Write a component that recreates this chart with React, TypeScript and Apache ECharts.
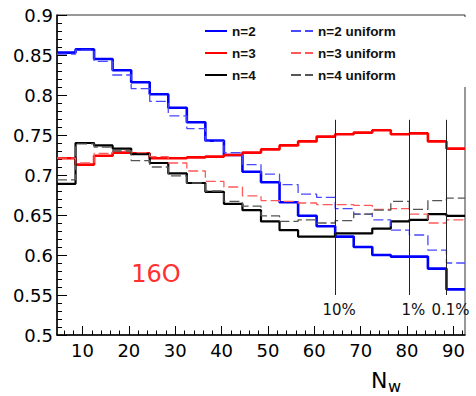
import React, { useEffect, useRef } from "react";
import * as echarts from "echarts";

// Histogram bin edges (N_w)
const binEdges = [4.5, 8.5, 12.5, 16.5, 20.5, 24.5, 28.5, 32.5, 36.5, 40.5, 44.5, 48.5, 52.5, 56.5, 60.5, 64.5, 68.5, 72.5, 76.5, 80.5, 84.5, 88.5, 92.5];

const n2 = [0.853, 0.857, 0.845, 0.831, 0.816, 0.801, 0.784, 0.766, 0.743, 0.725, 0.704, 0.691, 0.666, 0.649, 0.636, 0.623, 0.610, 0.600, 0.598, 0.598, 0.583, 0.557];
const n3 = [0.721, 0.713, 0.724, 0.728, 0.727, 0.721, 0.721, 0.722, 0.723, 0.725, 0.728, 0.732, 0.737, 0.742, 0.748, 0.751, 0.753, 0.756, 0.751, 0.752, 0.742, 0.733];
const n4 = [0.689, 0.740, 0.737, 0.733, 0.726, 0.715, 0.702, 0.690, 0.679, 0.664, 0.656, 0.642, 0.631, 0.623, 0.623, 0.627, 0.627, 0.633, 0.642, 0.644, 0.651, 0.649];
const n2u = [0.851, 0.856, 0.842, 0.825, 0.808, 0.792, 0.774, 0.758, 0.742, 0.728, 0.713, 0.701, 0.688, 0.676, 0.672, 0.658, 0.651, 0.644, 0.631, 0.625, 0.606, 0.590];
const n3u = [0.721, 0.715, 0.727, 0.730, 0.728, 0.723, 0.715, 0.705, 0.692, 0.685, 0.674, 0.668, 0.667, 0.665, 0.663, 0.663, 0.662, 0.657, 0.658, 0.651, 0.640, 0.644];
const n4u = [0.694, 0.739, 0.735, 0.730, 0.718, 0.710, 0.699, 0.690, 0.680, 0.667, 0.661, 0.649, 0.642, 0.644, 0.640, 0.643, 0.651, 0.656, 0.667, 0.657, 0.668, 0.671];

const xTickLabels = [10, 20, 30, 40, 50, 60, 70, 80, 90];
const thresholdX = [64.5, 80.5, 88.5];
const thresholdLabels = ["10%", "1%", "0.1%"];
const thresholdBottom = 0.55;
const thresholdTop = 0.769;

const FONT = "DejaVu Sans";

function stepData(vals: number[]) {
  const d = vals.map((v, i) => [binEdges[i], v]);
  d.push([binEdges[vals.length], vals[vals.length - 1]]);
  return d;
}

export default function App() {
  const ref = useRef<HTMLDivElement>(null);
  useEffect(() => {
    if (!ref.current) return;
    const chart = echarts.init(ref.current, null, { renderer: "svg" });
    const minorX: number[] = [];
    for (let v = 6; v <= 92; v += 2) if (v % 10 !== 0) minorX.push(v);

    const solid = (name: string, vals: number[], color: string, width: number) => ({
      name, type: "line", step: "end", data: stepData(vals), symbol: "none",
      lineStyle: { color, width }, itemStyle: { color }, z: 3,
    });
    const dashed = (name: string, vals: number[], color: string) => ({
      name, type: "line", step: "end", data: stepData(vals), symbol: "none",
      lineStyle: { color, width: 1.3, type: [10, 4] }, itemStyle: { color }, z: 4,
    });

    const legendCommon = {
      orient: "vertical", top: 24, itemWidth: 22, itemHeight: 14, itemGap: 8, padding: 0,
      itemStyle: { opacity: 0 },
      textStyle: { fontFamily: "Liberation Sans", fontWeight: "bold", fontSize: 13.5, color: "#111" },
    };

    chart.setOption({
      animation: false,
      backgroundColor: "#fff",
      grid: { left: 57, right: 11, top: 15, bottom: 61, show: true, borderColor: "#333", borderWidth: 1 },
      xAxis: [
        {
          type: "value", min: 4.5, max: 92.5, position: "bottom",
          axisLine: { show: true, onZero: false, lineStyle: { color: "#000", width: 1.5 } },
          axisTick: { show: true, inside: true, length: 9, customValues: xTickLabels, lineStyle: { color: "#000" } },
          axisLabel: { customValues: xTickLabels, fontFamily: FONT, fontSize: 18, color: "#000", margin: 6 },
          splitLine: { show: false },
        },
        {
          type: "value", min: 4.5, max: 92.5, position: "bottom",
          axisLine: { show: false },
          axisTick: { show: true, inside: true, length: 4.5, customValues: minorX, lineStyle: { color: "#000" } },
          axisLabel: { show: false },
          splitLine: { show: false },
        },
      ],
      yAxis: {
        type: "value", min: 0.5, max: 0.9, interval: 0.05,
        axisLine: { show: true, onZero: false, lineStyle: { color: "#000", width: 1.5 } },
        axisTick: { show: true, inside: true, length: 10, lineStyle: { color: "#000" } },
        minorTick: { show: true, splitNumber: 5, length: 5, lineStyle: { color: "#000" } },
        axisLabel: {
          fontFamily: FONT, fontSize: 18, color: "#000", margin: 4,
          formatter: (v: number) => String(+v.toFixed(2)),
        },
        splitLine: { show: false },
      },
      legend: [
        { ...legendCommon, left: 204, data: ["n=2", "n=3", "n=4"] },
        { ...legendCommon, left: 290, data: ["n=2 uniform", "n=3 uniform", "n=4 uniform"] },
      ],
      series: [
        solid("n=2", n2, "#0000ff", 2.6),
        solid("n=3", n3, "#ff0000", 2.6),
        solid("n=4", n4, "#000000", 2.2),
        dashed("n=2 uniform", n2u, "#4848ff"),
        dashed("n=3 uniform", n3u, "#ff5a5a"),
        dashed("n=4 uniform", n4u, "#555555"),
        {
          name: "thresholds", type: "line", data: [], symbol: "none",
          markLine: {
            silent: true, symbol: ["none", "none"], animation: false,
            lineStyle: { color: "#222", width: 1, type: "solid" },
            label: { show: true, position: "start", formatter: "{b}", fontFamily: FONT, fontSize: 15, color: "#111", distance: 7, offset: [4, 0] },
            data: thresholdX.map((x, i) => [
              { name: thresholdLabels[i], coord: [x, thresholdBottom] },
              { coord: [x, thresholdTop] },
            ]),
          },
        },
      ],
      graphic: [
        { type: "rect", z: 100, shape: { x: 461, y: 17, width: 8, height: 70 }, style: { fill: "#fff" } },
        { type: "text", z: 100, x: 156, y: 274, style: { text: "16O", fill: "#ff3030", font: `24px ${FONT}`, textAlign: "center", textVerticalAlign: "middle" } },
        { type: "text", z: 100, x: 371, y: 380, style: { text: "N", fill: "#000", font: `22px ${FONT}`, textAlign: "left", textVerticalAlign: "middle" } },
        { type: "text", z: 100, x: 388, y: 386, style: { text: "w", fill: "#000", font: `16px ${FONT}`, textAlign: "left", textVerticalAlign: "middle" } },
      ],
    } as any);
    return () => chart.dispose();
  }, []);
  return <div ref={ref} style={{ position: "fixed", left: 0, top: 0, width: 476, height: 396 }} />;
}
